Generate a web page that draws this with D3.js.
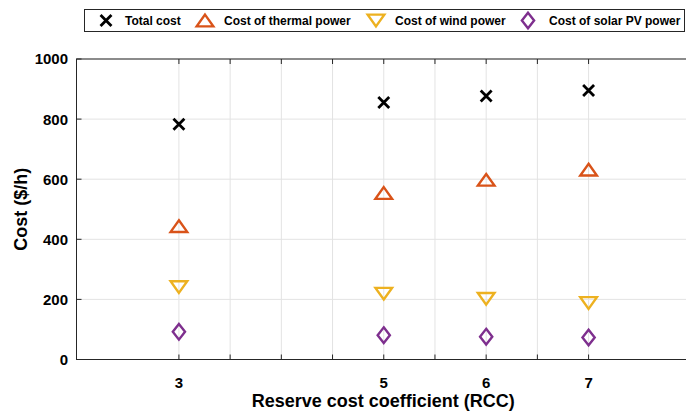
<!DOCTYPE html>
<html><head><meta charset="utf-8">
<script src="https://cdn.jsdelivr.net/npm/d3@7"></script>
<style>body{margin:0;background:#fff}svg{display:block;font-family:"Liberation Sans",Arial,sans-serif;font-weight:bold}</style>
</head><body>
<svg id="c" width="686" height="413"></svg>
<script>
const rcc = [3, 5, 6, 7];
const totalCost = [783, 855, 877, 895];
const thermalCost = [444, 554, 598, 632];
const windCost = [241, 219, 202, 188];
const solarCost = [92, 81, 76, 73];
const xTickLabels = [3, 5, 6, 7];
const xGridTicks = [3, 3.5, 4, 4.5, 5, 5.5, 6, 6.5, 7];
const yTicks = [0, 200, 400, 600, 800, 1000];
const seriesNames = ["Total cost", "Cost of thermal power", "Cost of wind power", "Cost of solar PV power"];
const seriesColors = ["#000000", "#D95319", "#EDB120", "#7E2F8E"];

const svg = d3.select("#c");
const L = 76.5, R = 691, T = 59, B = 359.5;
const x = d3.scaleLinear().domain([2, 8]).range([L, R]);
const y = d3.scaleLinear().domain([0, 1000]).range([B, T]);

// grid
const g = svg.append("g");
g.selectAll(".vg").data(xGridTicks).enter().append("line")
  .attr("x1", d => x(d)).attr("x2", d => x(d)).attr("y1", T).attr("y2", B)
  .attr("stroke", "#e3e3e3").attr("stroke-width", 1);
g.selectAll(".hg").data(yTicks).enter().append("line")
  .attr("y1", d => y(d)).attr("y2", d => y(d)).attr("x1", L).attr("x2", R)
  .attr("stroke", "#e3e3e3").attr("stroke-width", 1);

// axes
const ax = svg.append("g").attr("fill", "none").attr("stroke", "#262626").attr("stroke-width", 1);
ax.append("rect").attr("x", L).attr("y", T).attr("width", R - L).attr("height", B - T);
const tickLen = 5;
xGridTicks.forEach(d => {
  ax.append("line").attr("x1", x(d)).attr("x2", x(d)).attr("y1", B).attr("y2", B - tickLen);
  ax.append("line").attr("x1", x(d)).attr("x2", x(d)).attr("y1", T).attr("y2", T + tickLen);
});
yTicks.forEach(d => {
  ax.append("line").attr("y1", y(d)).attr("y2", y(d)).attr("x1", L).attr("x2", L + tickLen);
  ax.append("line").attr("y1", y(d)).attr("y2", y(d)).attr("x1", R).attr("x2", R - tickLen);
});

// tick labels
svg.append("g").selectAll("text").data(xTickLabels).enter().append("text")
  .attr("x", d => x(d)).attr("y", 388).attr("text-anchor", "middle")
  .attr("font-size", 15).attr("fill", "#000").text(d => d);
svg.append("g").selectAll("text").data(yTicks).enter().append("text")
  .attr("x", 68).attr("y", d => y(d) + 5.4).attr("text-anchor", "end")
  .attr("font-size", 15).attr("fill", "#000").text(d => d);

// axis titles
svg.append("text").attr("x", (L + R) / 2 - 0.5).attr("y", 407).attr("text-anchor", "middle")
  .attr("font-size", 18).attr("fill", "#000").text("Reserve cost coefficient (RCC)");
svg.append("text").attr("transform", `translate(26.5,${(T + B) / 2}) rotate(-90)`)
  .attr("text-anchor", "middle").attr("font-size", 18).attr("fill", "#000").text("Cost ($/h)");

// marker path generators
function markerPath(type, s) {
  if (type === 0) { const h = s * 0.42; return `M${-h},${-h}L${h},${h}M${-h},${h}L${h},${-h}`; }
  if (type === 1) { const w = s * 0.64, hh = s * 0.45; return `M0,${-hh}L${w},${hh}L${-w},${hh}Z`; }
  if (type === 2) { const w = s * 0.64, hh = s * 0.45; return `M0,${hh}L${w},${-hh}L${-w},${-hh}Z`; }
  const w = s * 0.47, hh = s * 0.6; return `M0,${-hh}L${w},0L0,${hh}L${-w},0Z`;
}
const allSeries = [totalCost, thermalCost, windCost, solarCost];
allSeries.forEach((vals, i) => {
  svg.append("g").selectAll("path").data(vals).enter().append("path")
    .attr("transform", (d, j) => `translate(${x(rcc[j])},${y(d)})`)
    .attr("d", markerPath(i, 13))
    .attr("fill", "none").attr("stroke", seriesColors[i])
    .attr("stroke-width", i === 0 ? 2.8 : 2.4)
    .attr("stroke-linejoin", "miter");
});

// legend
const lg = svg.append("g");
lg.append("rect").attr("x", 84.5).attr("y", 9.5).attr("width", 600).attr("height", 22)
  .attr("fill", "#fff").attr("stroke", "#262626").attr("stroke-width", 1);
const legendMarkX = [106, 205, 376, 528];
const legendTextX = [125, 224, 395, 549];
seriesNames.forEach((n, i) => {
  lg.append("path").attr("transform", `translate(${legendMarkX[i]},20.5)`)
    .attr("d", markerPath(i, 13)).attr("fill", "none").attr("stroke", seriesColors[i])
    .attr("stroke-width", i === 0 ? 2.8 : 2.4);
  lg.append("text").attr("x", legendTextX[i]).attr("y", 25)
    .attr("font-size", 12).attr("fill", "#000").text(n);
});
</script>
</body></html>
